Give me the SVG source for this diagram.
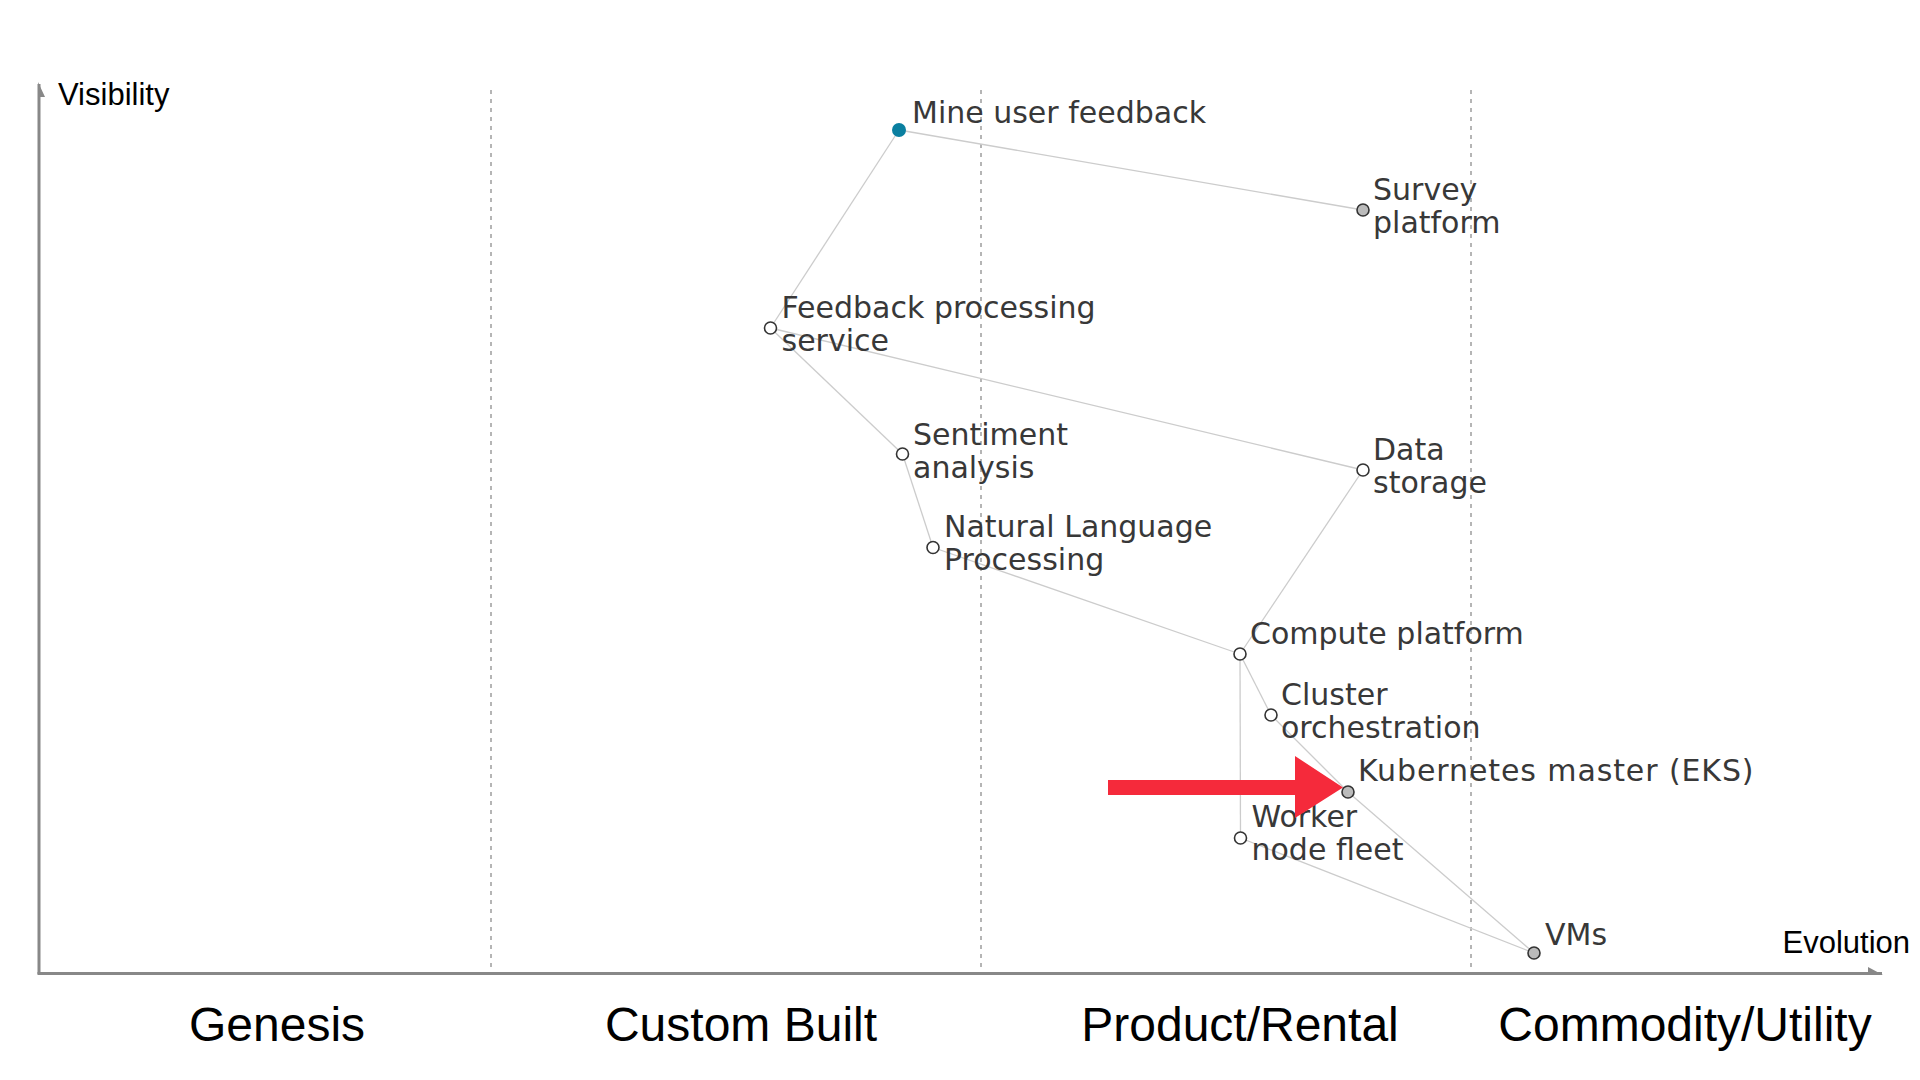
<svg xmlns="http://www.w3.org/2000/svg" width="1920" height="1080" viewBox="0 0 1920 1080">
<style>
.axis{stroke:#888;stroke-width:3;fill:none}
.axhead{fill:#888}
.stage{stroke:#b5b5b5;stroke-width:2;stroke-dasharray:4 5;fill:none}
.axlabel{font-family:"Liberation Sans",Arial,sans-serif;font-size:31px;fill:#000}
.stagelabel{font-family:"Liberation Sans",Arial,sans-serif;font-size:48px;fill:#000;text-anchor:middle}
.link{stroke:#cccccc;stroke-width:1.3;fill:none}
.lbl{font-family:"DejaVu Sans",Verdana,sans-serif;font-size:30px;fill:#383838}
.open{fill:#fff;stroke:#333;stroke-width:1.6}
.grey{fill:#bbb;stroke:#333;stroke-width:1.6}
.anchor{fill:#0a7fa0}
</style>
<rect width="1920" height="1080" fill="#fff"/>
<g id="grid">
<line class="stage" x1="491" y1="90" x2="491" y2="968"/>
<line class="stage" x1="981" y1="90" x2="981" y2="968"/>
<line class="stage" x1="1471" y1="90" x2="1471" y2="968"/>
</g>
<g id="axes">
<line class="axis" x1="39" y1="84" x2="39" y2="974"/>
<polygon class="axhead" points="38,82 45,97 38,97"/>
<line class="axis" x1="37.5" y1="973.5" x2="1882" y2="973.5"/>
<polygon class="axhead" points="1868,967 1883,975 1868,975"/>
<text class="axlabel" x="58" y="105">Visibility</text>
<text class="axlabel" x="1910" y="953" text-anchor="end">Evolution</text>
<text class="stagelabel" x="277" y="1041">Genesis</text>
<text class="stagelabel" x="741" y="1041">Custom Built</text>
<text class="stagelabel" x="1240" y="1041">Product/Rental</text>
<text class="stagelabel" x="1685" y="1041">Commodity/Utility</text>
</g>
<g id="connectors">
<line class="link" x1="899" y1="130" x2="1363" y2="210"/>
<line class="link" x1="899" y1="130" x2="770.5" y2="328"/>
<line class="link" x1="770.5" y1="328" x2="902.5" y2="454"/>
<line class="link" x1="770.5" y1="328" x2="1363" y2="470"/>
<line class="link" x1="902.5" y1="454" x2="933" y2="547.5"/>
<line class="link" x1="933" y1="547.5" x2="1240" y2="654"/>
<line class="link" x1="1363" y1="470" x2="1240" y2="654"/>
<line class="link" x1="1240" y1="654" x2="1271" y2="715"/>
<line class="link" x1="1240" y1="654" x2="1240.5" y2="838"/>
<line class="link" x1="1271" y1="715" x2="1348" y2="792"/>
<line class="link" x1="1348" y1="792" x2="1534" y2="953"/>
<line class="link" x1="1240.5" y1="838" x2="1534" y2="953"/>
</g>
<g id="node-mine-user-feedback">
<circle class="anchor" cx="899" cy="130" r="7"/>
<text class="lbl" x="912" y="123">Mine user feedback</text>
</g>
<g id="node-survey-platform">
<circle class="grey" cx="1363" cy="210" r="6"/>
<text class="lbl" x="1373" y="200">Survey<tspan x="1373" dy="33">platform</tspan></text>
</g>
<g id="node-feedback-processing-service">
<circle class="open" cx="770.5" cy="328" r="6"/>
<text class="lbl" x="781.5" y="318">Feedback processing<tspan x="781.5" dy="33">service</tspan></text>
</g>
<g id="node-sentiment-analysis">
<circle class="open" cx="902.5" cy="454" r="6"/>
<text class="lbl" x="913" y="445">Sentiment<tspan x="913" dy="33">analysis</tspan></text>
</g>
<g id="node-nlp">
<circle class="open" cx="933" cy="547.5" r="6"/>
<text class="lbl" x="944" y="537">Natural Language<tspan x="944" dy="33">Processing</tspan></text>
</g>
<g id="node-data-storage">
<circle class="open" cx="1363" cy="470" r="6"/>
<text class="lbl" x="1373" y="460">Data<tspan x="1373" dy="33">storage</tspan></text>
</g>
<g id="node-compute-platform">
<circle class="open" cx="1240" cy="654" r="6"/>
<text class="lbl" x="1250" y="644">Compute platform</text>
</g>
<g id="node-cluster-orchestration">
<circle class="open" cx="1271" cy="715" r="6"/>
<text class="lbl" x="1281" y="705">Cluster<tspan x="1281" dy="33">orchestration</tspan></text>
</g>
<g id="node-kubernetes-master">
<circle class="grey" cx="1348" cy="792" r="6"/>
<text class="lbl" x="1358" y="781" letter-spacing="0.9">Kubernetes master (EKS)</text>
</g>
<g id="node-worker-node-fleet">
<circle class="open" cx="1240.5" cy="838" r="6"/>
<text class="lbl" x="1251.5" y="827">Worker<tspan x="1251.5" dy="33">node fleet</tspan></text>
</g>
<g id="node-vms">
<circle class="grey" cx="1534" cy="953" r="6"/>
<text class="lbl" x="1545" y="945">VMs</text>
</g>
<g id="highlight-arrow">
<polygon fill="#f52a3b" points="1108,780 1295,780 1295,756 1343,787.5 1295,818 1295,795 1108,795"/>
</g>
</svg>
